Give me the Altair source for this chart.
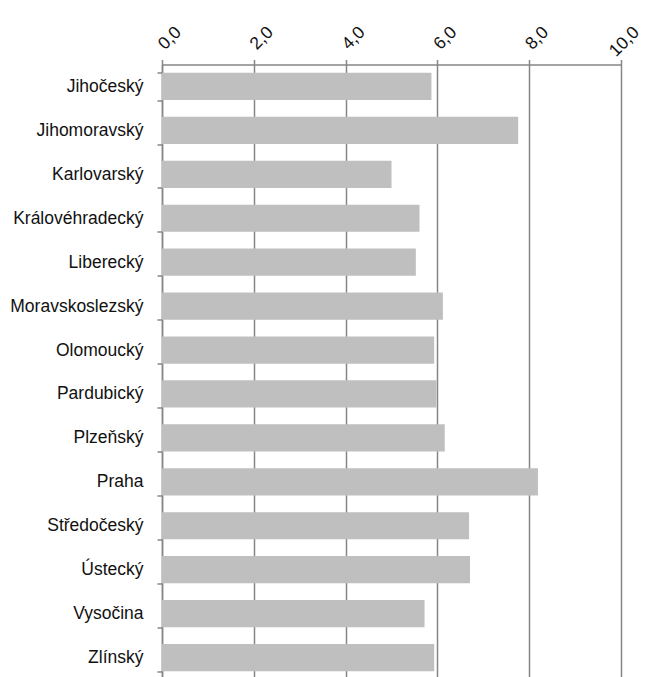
import altair as alt
import pandas as pd

regions = ["Jihočeský", "Jihomoravský", "Karlovarský", "Královéhradecký", "Liberecký",
           "Moravskoslezský", "Olomoucký", "Pardubický", "Plzeňský", "Praha",
           "Středočeský", "Ústecký", "Vysočina", "Zlínský"]
values = [5.87, 7.76, 5.00, 5.61, 5.53, 6.12, 5.93, 5.98, 6.16, 8.19, 6.69, 6.71, 5.72, 5.93]
x_ticks = [0, 2, 4, 6, 8, 10]

df = pd.DataFrame({"region": regions, "value": values})

FONT = "Liberation Sans"
GRAY = "#868686"

chart = alt.Chart(df).mark_bar(color="#BFBFBF").encode(
    x=alt.X("value:Q",
            scale=alt.Scale(domain=[0, 10], nice=False),
            axis=alt.Axis(orient="top", values=x_ticks, title=None,
                          labelExpr="replace(format(datum.value, '.1f'), '.', ',')",
                          labelAngle=315, labelAlign="left", labelBaseline="middle",
                          labelPadding={"condition": {"test": "datum.value == 10", "value": 6}, "value": 13},
                          labelOffset={"condition": {"test": "datum.value == 10", "value": -9}, "value": -1},
                          labelFont=FONT, labelFontSize=17.5,
                          labelFontWeight="normal", labelColor="#111111",
                          grid=True, gridColor=GRAY, gridWidth=1.5,
                          domainColor=GRAY, domainWidth=1.5,
                          tickColor=GRAY, tickWidth=1.5, tickSize=5,
                          labelOverlap=False)),
    y=alt.Y("region:N", sort=regions,
            scale=alt.Scale(paddingInner=0.38, paddingOuter=0.19, range=[0, 615]),
            axis=alt.Axis(title=None, tickBand="extent", labelFont=FONT,
                          labelFontSize=17.5, labelFontWeight="normal",
                          labelColor="#111111", labelPadding=14,
                          domainColor=GRAY, domainWidth=1.5,
                          tickColor=GRAY, tickWidth=1.5, tickSize=5,
                          grid=False)),
).properties(
    width=459, height=612,
    autosize=alt.AutoSizeParams(type="none"),
    padding={"left": 154, "top": 56.5, "right": 22, "bottom": 0},
).configure_view(stroke=None)

chart.save("out.html", embed_options={"renderer": "svg", "actions": False})
